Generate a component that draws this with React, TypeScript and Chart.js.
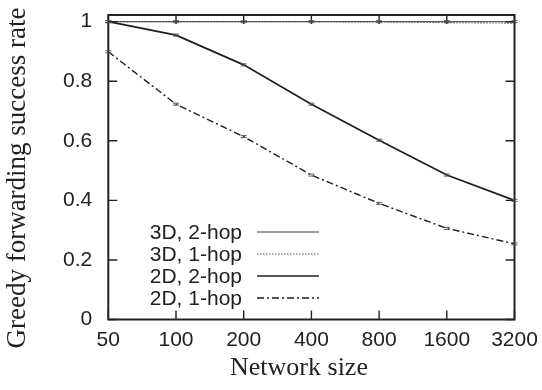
import React, { useEffect, useRef } from "react";
import { Chart, registerables } from "chart.js";

Chart.register(...registerables);

// Network sizes (log-spaced, shown as evenly spaced categories)
const sizes = ["50", "100", "200", "400", "800", "1600", "3200"];

// Greedy forwarding success rate per configuration
const success3D2hop = [1.0, 1.0, 1.0, 1.0, 1.0, 1.0, 1.0];
const success3D1hop = [1.0, 1.0, 1.0, 1.0, 0.999, 0.997, 0.995];
const success2D2hop = [1.0, 0.955, 0.855, 0.723, 0.602, 0.485, 0.4];
const success2D1hop = [0.899, 0.723, 0.614, 0.485, 0.39, 0.306, 0.254];

const yTicks = [0, 0.2, 0.4, 0.6, 0.8, 1];

const seriesNames = ["3D, 2-hop", "3D, 1-hop", "2D, 2-hop", "2D, 1-hop"];
const seriesDashes: number[][] = [[], [1.5, 1.5], [], [7, 3, 2, 3]];
const seriesWidths = [1, 1.1, 1.7, 1.4];
const seriesColors = ["#3a3a3a", "#555", "#1e1e1e", "#1e1e1e"];

const INK = "#222";
const SANS = "'Liberation Sans', Arial, sans-serif";
const SERIF = "'Liberation Serif', 'Times New Roman', serif";

// Frame with inward ticks on all four sides, legend and axis titles
const framePlugin = {
  id: "frame",
  afterDatasetsDraw(chart: any) {
    const { ctx, chartArea: a, scales } = chart;
    const xs = scales.x;
    const ys = scales.y;
    ctx.save();
    ctx.strokeStyle = INK;
    ctx.lineWidth = 2;
    ctx.strokeRect(a.left, a.top, a.right - a.left, a.bottom - a.top);
    ctx.lineWidth = 1.4;
    const t = 9;
    ctx.beginPath();
    sizes.forEach((_, i) => {
      const x = xs.getPixelForValue(i);
      ctx.moveTo(x, a.bottom);
      ctx.lineTo(x, a.bottom - t);
      ctx.moveTo(x, a.top);
      ctx.lineTo(x, a.top + t);
    });
    yTicks.forEach((v) => {
      const y = ys.getPixelForValue(v);
      ctx.moveTo(a.left, y);
      ctx.lineTo(a.left + t, y);
      ctx.moveTo(a.right, y);
      ctx.lineTo(a.right - t, y);
    });
    ctx.stroke();

    // small error-bar caps at each measured point
    ctx.lineWidth = 1;
    ctx.strokeStyle = "#555";
    chart.data.datasets.forEach((ds: any, di: number) => {
      if (di === 1) return;
      const meta = chart.getDatasetMeta(di);
      meta.data.forEach((pt: any) => {
        ctx.beginPath();
        ctx.moveTo(pt.x - 3, pt.y - 1);
        ctx.lineTo(pt.x + 3, pt.y - 1);
        ctx.moveTo(pt.x - 3, pt.y + 1);
        ctx.lineTo(pt.x + 3, pt.y + 1);
        ctx.stroke();
      });
    });

    // legend inside the plot, lower left
    ctx.font = `21px ${SANS}`;
    ctx.fillStyle = INK;
    ctx.textAlign = "right";
    ctx.textBaseline = "middle";
    const textRight = 242;
    const lineL = 257;
    const lineR = 319;
    const rowY = [232, 254, 276, 298];
    seriesNames.forEach((name, i) => {
      ctx.fillText(name, textRight, rowY[i] + 1);
      ctx.save();
      ctx.strokeStyle = seriesColors[i];
      ctx.lineWidth = seriesWidths[i];
      ctx.setLineDash(seriesDashes[i]);
      ctx.beginPath();
      ctx.moveTo(lineL, rowY[i]);
      ctx.lineTo(lineR, rowY[i]);
      ctx.stroke();
      ctx.restore();
    });

    // axis titles
    ctx.font = `26px ${SERIF}`;
    ctx.textAlign = "center";
    ctx.textBaseline = "alphabetic";
    ctx.fillText("Network size", 299, 375);
    ctx.font = `27px ${SERIF}`;
    ctx.save();
    ctx.translate(25, 178);
    ctx.rotate(-Math.PI / 2);
    ctx.fillText("Greedy forwarding success rate", 0, 0);
    ctx.restore();
    ctx.restore();
  },
};

export default function App() {
  const ref = useRef<HTMLCanvasElement | null>(null);

  useEffect(() => {
    if (!ref.current) return;
    const values = [success3D2hop, success3D1hop, success2D2hop, success2D1hop];
    const chart = new Chart(ref.current, {
      type: "line",
      data: {
        labels: sizes,
        datasets: values.map((v, i) => ({
          label: seriesNames[i],
          data: v,
          borderColor: seriesColors[i],
          borderWidth: seriesWidths[i],
          borderDash: seriesDashes[i],
          pointRadius: 0,
          fill: false,
          tension: 0,
        })),
      },
      options: {
        animation: false,
        responsive: false,
        layout: { padding: { left: 0, right: 27.5, top: 15, bottom: 0 } },
        plugins: { legend: { display: false }, tooltip: { enabled: false } },
        scales: {
          x: {
            type: "category",
            offset: false,
            grid: { display: false, drawTicks: false },
            border: { display: false },
            ticks: {
              color: INK,
              font: { family: SANS, size: 21 },
              padding: 8,
              maxRotation: 0,
              autoSkip: false,
            },
            afterFit(scale: any) {
              scale.height = 70.5;
              scale.paddingLeft = 0;
              scale.paddingRight = 0;
            },
          },
          y: {
            min: 0,
            max: 1.0225,
            grid: { display: false, drawTicks: false },
            border: { display: false },
            afterBuildTicks(scale: any) {
              scale.ticks = yTicks.map((v) => ({ value: v }));
            },
            ticks: {
              color: INK,
              font: { family: SANS, size: 21 },
              padding: 16,
              callback: (v: any) => String(Number(v)),
            },
            afterFit(scale: any) {
              scale.width = 108.3;
              scale.paddingTop = 0;
              scale.paddingBottom = 0;
            },
          },
        },
      },
      plugins: [framePlugin],
    });
    return () => chart.destroy();
  }, []);

  return (
    <div style={{ position: "fixed", left: 0, top: 0, width: 542, height: 390, background: "#fff" }}>
      <canvas ref={ref} width={542} height={390} />
    </div>
  );
}
